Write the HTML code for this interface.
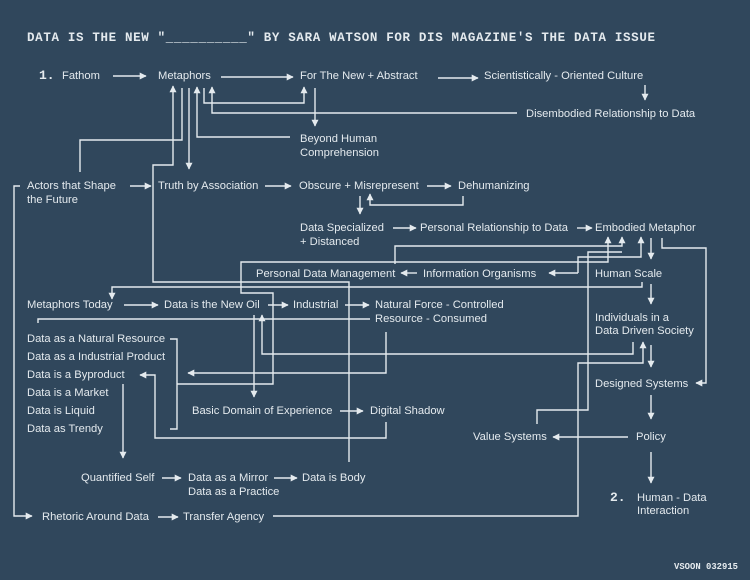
<!DOCTYPE html>
<html><head><meta charset="utf-8"><style>
html,body{margin:0;padding:0;background:#30475c;}
svg{display:block}
text{font-family:"Liberation Sans",sans-serif;font-size:11.2px;fill:#e4eaee;}
.t{font-family:"Liberation Mono",monospace;font-size:12.5px;font-weight:bold;}
.n{font-family:"Liberation Mono",monospace;font-size:13px;font-weight:bold;}
path,line{stroke:#e4eaee;stroke-width:1.4;fill:none;}
</style></head><body>
<svg width="750" height="580" viewBox="0 0 750 580" xmlns="http://www.w3.org/2000/svg">
<defs><marker id="a" viewBox="0 0 10 10" refX="9" refY="5" markerWidth="5" markerHeight="5" orient="auto-start-reverse" markerUnits="strokeWidth"><path d="M0,0 L10,5 L0,10z" style="fill:#e4eaee;stroke:none"/></marker></defs>
<rect width="750" height="580" fill="#30475c"/>
<text class="t" x="27" y="41" textLength="628" lengthAdjust="spacing">DATA IS THE NEW "__________" BY SARA WATSON FOR DIS MAGAZINE'S THE DATA ISSUE</text>

<text class="n" x="39" y="79">1.</text>
<text x="62" y="79">Fathom</text>
<text x="158" y="79">Metaphors</text>
<text x="300" y="79">For The New + Abstract</text>
<text x="484" y="79">Scientistically - Oriented Culture</text>
<text x="526" y="117">Disembodied Relationship to Data</text>
<text x="300" y="142">Beyond Human</text>
<text x="300" y="156">Comprehension</text>
<text x="27" y="189">Actors that Shape</text>
<text x="27" y="203">the Future</text>
<text x="158" y="189">Truth by Association</text>
<text x="299" y="189">Obscure + Misrepresent</text>
<text x="458" y="189">Dehumanizing</text>
<text x="300" y="231">Data Specialized</text>
<text x="300" y="245">+ Distanced</text>
<text x="420" y="231">Personal Relationship to Data</text>
<text x="595" y="231">Embodied Metaphor</text>
<text x="256" y="277">Personal Data Management</text>
<text x="423" y="277">Information Organisms</text>
<text x="595" y="277">Human Scale</text>
<text x="27" y="308">Metaphors Today</text>
<text x="164" y="308">Data is the New Oil</text>
<text x="293" y="308">Industrial</text>
<text x="375" y="308">Natural Force - Controlled</text>
<text x="375" y="322">Resource - Consumed</text>
<text x="595" y="321">Individuals in a</text>
<text x="595" y="334">Data Driven Society</text>
<text x="27" y="342">Data as a Natural Resource</text>
<text x="27" y="360">Data as a Industrial Product</text>
<text x="27" y="378">Data is a Byproduct</text>
<text x="27" y="396">Data is a Market</text>
<text x="27" y="414">Data is Liquid</text>
<text x="27" y="432">Data as Trendy</text>
<text x="595" y="387">Designed Systems</text>
<text x="192" y="414">Basic Domain of Experience</text>
<text x="370" y="414">Digital Shadow</text>
<text x="473" y="440">Value Systems</text>
<text x="636" y="440">Policy</text>
<text x="81" y="481">Quantified Self</text>
<text x="188" y="481">Data as a Mirror</text>
<text x="188" y="495">Data as a Practice</text>
<text x="302" y="481">Data is Body</text>
<text class="n" x="610" y="501">2.</text>
<text x="637" y="501">Human - Data</text>
<text x="637" y="514">Interaction</text>
<text x="42" y="520">Rhetoric Around Data</text>
<text x="183" y="520">Transfer Agency</text>
<text class="n" x="674" y="569" textLength="64" lengthAdjust="spacingAndGlyphs" style="font-size:9px">VSOON 032915</text>

<g marker-end="url(#a)">
<line x1="113" y1="76" x2="146" y2="76"/>
<line x1="221" y1="77" x2="293" y2="77"/>
<line x1="438" y1="78" x2="478" y2="78"/>
<line x1="645" y1="85" x2="645" y2="100"/>
<path d="M349,462 V282 H153 V165 H173 V86"/>
<line x1="189" y1="88" x2="189" y2="169"/>
<path d="M290,137 H197 V87"/>
<path d="M204,88 V103 H304 V87"/>
<path d="M517,113 H212 V87"/>
<line x1="315" y1="88" x2="315" y2="126"/>
<line x1="130" y1="186" x2="151" y2="186"/>
<line x1="265" y1="186" x2="291" y2="186"/>
<path d="M20,186 H14 V516 H32"/>
<line x1="427" y1="186" x2="451" y2="186"/>
<line x1="360" y1="196" x2="360" y2="214"/>
<path d="M463,196 V205 H370 V194"/>
<line x1="393" y1="228" x2="416" y2="228"/>
<line x1="577" y1="228" x2="592" y2="228"/>
<line x1="651" y1="238" x2="651" y2="259"/>
<path d="M662,238 V248 H706 V383 H696"/>
<path d="M395,264 V246 H622 V237"/>
<path d="M170,429 H177 V339 H170 M177,384 H273 V293 H241 V262 H608 V237"/>
<path d="M578,273 H549" />
<path d="M578,273 V257 H641 V237"/>
<line x1="417" y1="273" x2="401" y2="273"/>
<path d="M642,282 V287 H112 V299"/>
<line x1="124" y1="305" x2="158" y2="305"/>
<line x1="268" y1="305" x2="288" y2="305"/>
<line x1="345" y1="305" x2="369" y2="305"/>
<line x1="254" y1="315" x2="254" y2="397"/>
<path d="M633,342 V354 H262 V315"/>
<path d="M386,332 V373 H188"/>
<path d="M386,422 V438 H155 V375 H140"/>
<line x1="340" y1="411" x2="363" y2="411"/>
<line x1="123" y1="384" x2="123" y2="458"/>
<line x1="162" y1="478" x2="181" y2="478"/>
<line x1="274" y1="478" x2="297" y2="478"/>
<line x1="158" y1="517" x2="178" y2="517"/>
<path d="M273,516 H578 V363 H643 V342"/>
<line x1="651" y1="345" x2="651" y2="367"/>
<line x1="651" y1="395" x2="651" y2="419"/>
<line x1="628" y1="437" x2="553" y2="437"/>
<line x1="651" y1="452" x2="651" y2="483"/>
<line x1="651" y1="284" x2="651" y2="304"/>
</g>
<path d="M182,88 V140 H80 V172"/>
<path d="M537,424 V410 H588 V252 H622"/>
<path d="M38,323 V319 H370"/>
</svg>
</body></html>
